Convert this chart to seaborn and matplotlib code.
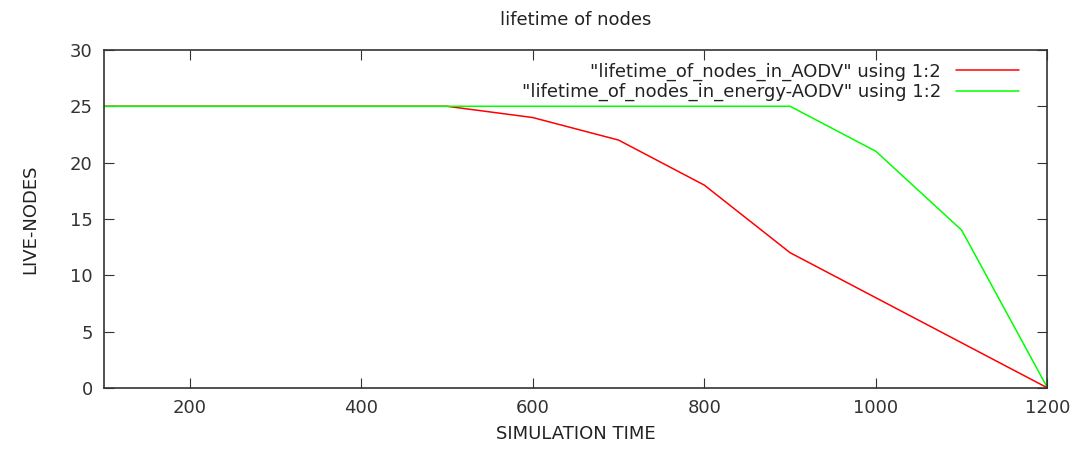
import pandas as pd
import matplotlib.pyplot as plt
import seaborn as sns

sim_time = [100, 200, 300, 400, 500, 600, 700, 800, 900, 1000, 1100, 1200]
aodv_nodes = [25, 25, 25, 25, 25, 24, 22, 18, 12, 8, 4, 0]
energy_aodv_nodes = [25, 25, 25, 25, 25, 25, 25, 25, 25, 21, 14, 0]

label_aodv = '"lifetime_of_nodes_in_AODV" using 1:2'
label_energy = '"lifetime_of_nodes_in_energy-AODV" using 1:2'

df = pd.DataFrame({
    'time': sim_time * 2,
    'nodes': aodv_nodes + energy_aodv_nodes,
    'series': [label_aodv] * len(sim_time) + [label_energy] * len(sim_time),
})

sns.set_style('ticks')
plt.rcParams['font.family'] = ['DejaVu Sans']

fig, ax = plt.subplots(figsize=(10.81, 4.5), dpi=100)
fig.subplots_adjust(left=0.096, right=0.969, top=0.889, bottom=0.138)

sns.lineplot(data=df, x='time', y='nodes', hue='series',
             palette={label_aodv: '#ff0000', label_energy: '#00ff00'},
             linewidth=1.1, ax=ax)

ax.set_xlim(100, 1200)
ax.set_ylim(0, 30)
ax.set_xticks([200, 400, 600, 800, 1000, 1200])
ax.set_yticks([0, 5, 10, 15, 20, 25, 30])
ax.tick_params(direction='in', top=True, right=True, length=7,
               labelsize=13, colors='#333333', pad=8)
for s in ax.spines.values():
    s.set_color('#333333')
    s.set_linewidth(1.2)

ax.set_title('lifetime of nodes', fontsize=13, color='#222222', pad=18)
ax.set_xlabel('SIMULATION TIME', fontsize=13, color='#222222', labelpad=6)
ax.set_ylabel('LIVE-NODES', fontsize=13, color='#222222', labelpad=22)

leg = ax.legend(loc='upper right', bbox_to_anchor=(0.983, 1.0), frameon=False,
                fontsize=13, markerfirst=False, handlelength=3.5,
                borderaxespad=0.3, labelspacing=0.12)
for t in leg.get_texts():
    t.set_color('#222222')

fig.savefig('out.png', dpi=100)
